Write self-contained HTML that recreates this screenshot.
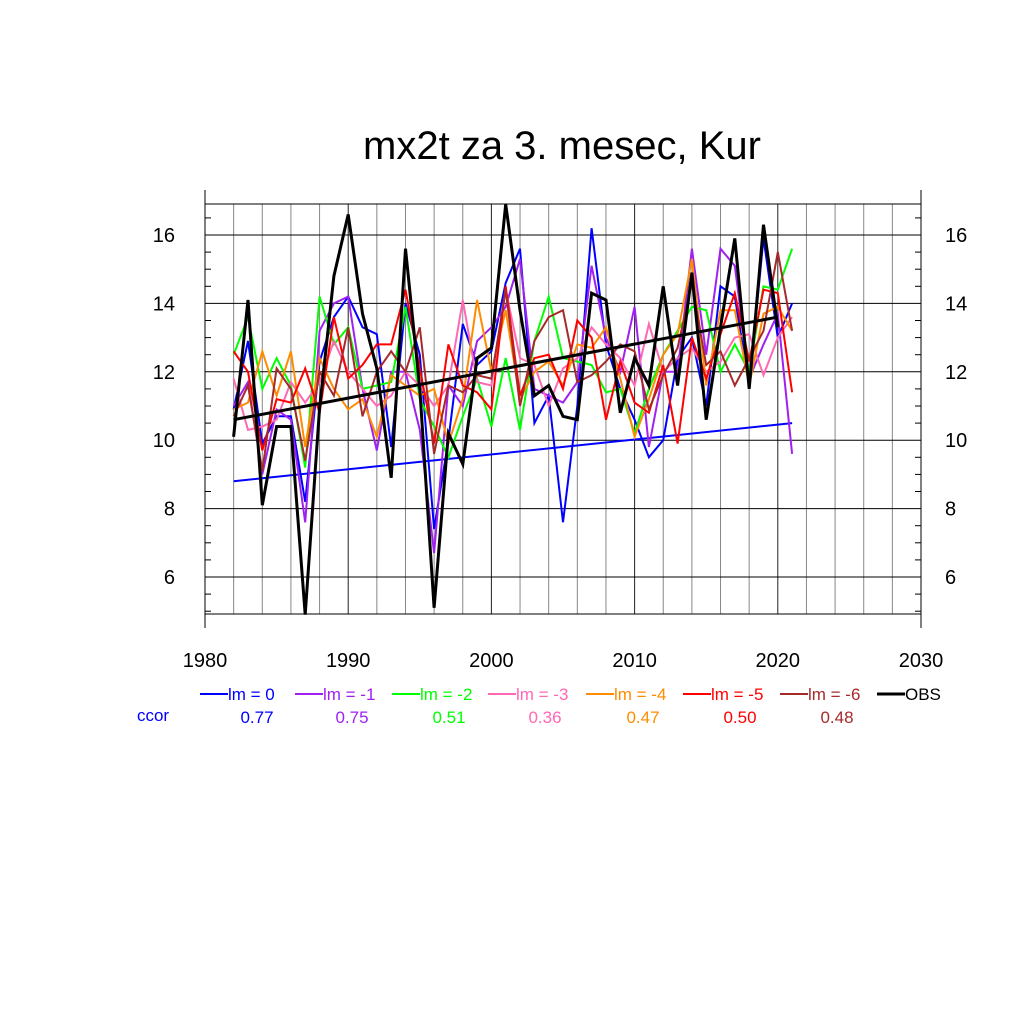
<!DOCTYPE html>
<html><head><meta charset="utf-8"><style>
html,body{margin:0;padding:0;background:#fff}
svg{display:block;font-family:"Liberation Sans",sans-serif}
</style></head><body>
<svg id="chart" width="1024" height="1024">
<text x="562" y="159" font-size="40" text-anchor="middle">mx2t za 3. mesec, Kur</text>
</svg>
<script>
const years=[];for(let y=1982;y<=2021;y++)years.push(y);
const xTicks=[1980,1990,2000,2010,2020,2030];
const yTicks=[6,8,10,12,14,16];
const seriesNames=["lm = 0","lm = -1","lm = -2","lm = -3","lm = -4","lm = -5","lm = -6","OBS"];
const seriesColors=["#0000ff","#a020f0","#00ff00","#ff69b4","#ff8c00","#ff0000","#a52a2a","#000000"];
const ccor=["0.77","0.75","0.51","0.36","0.47","0.50","0.48"];
const lm0=[10.9,12.9,9.9,10.7,10.7,8.2,12.3,13.6,14.2,13.3,13.1,9.8,14.0,12.5,7.4,10.0,13.4,12.2,12.6,14.6,15.6,10.5,11.3,7.6,11.0,16.2,12.8,11.5,10.6,9.5,10.0,12.4,13.0,11.0,14.5,14.2,11.6,15.9,13.0,14.0];
const lm1=[11.0,11.7,9.0,10.9,10.6,7.6,13.2,14.0,14.2,11.5,9.7,12.0,12.0,10.3,6.7,11.6,11.0,12.9,13.3,13.9,15.3,11.5,11.3,11.1,11.7,15.1,13.0,12.0,13.9,9.8,12.0,12.0,15.6,12.5,15.6,15.1,11.8,12.8,13.7,9.6];
const lm2=[12.5,13.6,11.5,12.4,11.6,9.2,14.2,12.8,13.3,11.5,11.6,11.7,13.9,11.2,10.4,9.5,10.7,11.8,10.4,12.4,10.3,12.9,14.2,12.4,12.3,12.2,11.4,11.5,10.2,11.5,12.5,13.2,13.9,13.8,12.0,12.8,12.0,14.5,14.4,15.6];
const lm3=[11.8,10.3,10.4,10.6,11.7,11.1,11.7,12.9,12.0,11.5,11.0,11.3,12.0,11.6,11.0,11.6,14.1,11.7,11.6,14.4,12.4,12.2,11.0,12.1,12.4,13.3,12.8,12.4,11.6,13.4,12.0,12.4,12.7,12.0,12.3,13.0,13.1,11.9,13.0,13.6];
const lm4=[10.9,11.1,12.6,11.3,12.6,9.8,12.4,11.5,10.9,11.2,10.1,11.9,11.6,11.3,11.5,9.9,11.2,14.1,12.0,13.8,11.2,12.0,12.3,11.6,12.8,12.7,13.3,11.8,10.1,11.2,12.5,13.1,15.3,11.6,13.8,13.8,11.6,13.7,13.9,13.2];
const lm5=[12.6,12.0,9.7,11.2,11.1,12.1,10.8,13.6,11.8,12.2,12.8,12.8,14.4,12.1,9.9,12.8,11.6,11.4,10.9,14.5,11.3,12.4,12.5,11.5,13.5,13.0,10.6,12.3,11.1,10.8,12.2,9.9,13.0,11.8,13.1,14.3,12.3,14.4,14.3,11.4];
const lm6=[10.7,11.6,9.1,12.1,11.5,9.4,12.0,11.3,13.3,10.7,12.0,12.6,12.0,13.3,9.6,11.6,11.4,11.9,11.8,14.4,11.0,12.9,13.6,13.8,11.7,11.9,12.3,12.8,12.6,10.9,11.9,12.7,14.6,12.2,12.6,11.6,12.4,13.2,15.5,13.2];
const obs=[10.1,14.1,8.1,10.4,10.4,4.9,10.95,14.8,16.6,13.7,12.1,8.9,15.6,11.5,5.1,10.2,9.3,12.4,12.7,16.9,13.8,11.3,11.6,10.7,10.6,14.3,14.1,10.8,12.4,11.6,14.5,11.6,14.9,10.6,13.3,15.9,11.5,16.3,13.3];
const obsTrend=[[1982,10.6],[2020,13.6]];
const lm0Trend=[[1982,8.8],[2021,10.5]];

const NS="http://www.w3.org/2000/svg";
const svg=document.getElementById('chart');
const X0=205,X1=921,YT=204,YB=614;
const xs=v=>X0+(v-1980)/50*(X1-X0);
const ys=v=>235+(16-v)*34.2;
function mk(tag,attrs,parent){const e=document.createElementNS(NS,tag);for(const k in attrs)e.setAttribute(k,attrs[k]);(parent||svg).appendChild(e);return e;}
const grid=mk('g',{});


for(let y=1982;y<=2028;y+=2){
  const major=y%10===0;
  const l=mk('line',{x1:xs(y),x2:xs(y),y1:YT,y2:YB,stroke:major?'#222':'#888','stroke-width':1},grid);
  
  
}
for(const v of yTicks){
  const l=mk('line',{x1:X0,x2:X1,y1:ys(v),y2:ys(v),stroke:'#000','stroke-width':1},grid);
  
  
}
[YT,YB].forEach(y=>{const l=mk('line',{x1:X0,x2:X1,y1:y,y2:y,stroke:'#000','stroke-width':1},grid);

});
const axes=mk('g',{stroke:'#000','stroke-width':1});


mk('line',{x1:X0,x2:X0,y1:190,y2:628},axes);
mk('line',{x1:X1,x2:X1,y1:190,y2:628},axes);
for(let v=5;v<=16.5;v+=0.5){const y=ys(v);const maj=Number.isInteger(v)&&v%2===0;
  if(!maj){mk('line',{x1:X0,x2:X0+6,y1:y,y2:y},axes);mk('line',{x1:X1,x2:X1-6,y1:y,y2:y},axes);}
}
for(const v of yTicks){
  const t1=mk('text',{x:175,y:ys(v)+7,'font-size':20,'text-anchor':'end',stroke:'none'});t1.textContent=v;
  
  
  const t2=mk('text',{x:945,y:ys(v)+7,'font-size':20,'text-anchor':'start',stroke:'none'});t2.textContent=v;
  
  
}
for(const v of xTicks){
  const t=mk('text',{x:xs(v),y:667,'font-size':20,'text-anchor':'middle'});t.textContent=v;
  
  
}
const allSeries=[lm0,lm1,lm2,lm3,lm4,lm5,lm6,obs];
function pathOf(arr){return arr.map((v,i)=>(i?'L':'M')+xs(years[i]).toFixed(1)+','+ys(v).toFixed(1)).join(' ');}
const lt=mk('line',{x1:xs(lm0Trend[0][0]),y1:ys(lm0Trend[0][1]),x2:xs(lm0Trend[1][0]),y2:ys(lm0Trend[1][1]),stroke:'#0000ff','stroke-width':2});


allSeries.forEach((arr,i)=>{
  const p=mk('path',{d:pathOf(arr),fill:'none',stroke:seriesColors[i],'stroke-width':i===7?3:2,'stroke-linejoin':'miter'});
  
  
});
const ot=mk('line',{x1:xs(obsTrend[0][0]),y1:ys(obsTrend[0][1]),x2:xs(obsTrend[1][0]),y2:ys(obsTrend[1][1]),stroke:'#000','stroke-width':3});


const lx=[200,295,392,488,586,683,780,877];
seriesNames.forEach((n,i)=>{
  const g=mk('g',{});
  
  
  mk('line',{x1:lx[i],x2:lx[i]+28,y1:694,y2:694,stroke:seriesColors[i],'stroke-width':i===7?3:2},g);
  const t=mk('text',{x:lx[i]+28,y:700,'font-size':17,fill:seriesColors[i]},g);t.textContent=n;
  if(i<7){const c=mk('text',{x:lx[i]+57,y:723,'font-size':17,'text-anchor':'middle',fill:seriesColors[i]},g);c.textContent=ccor[i];}
});
const cc=mk('text',{x:153,y:721,'font-size':17,'text-anchor':'middle',fill:'#0000ff'});cc.textContent='ccor';


</script>
</body></html>
